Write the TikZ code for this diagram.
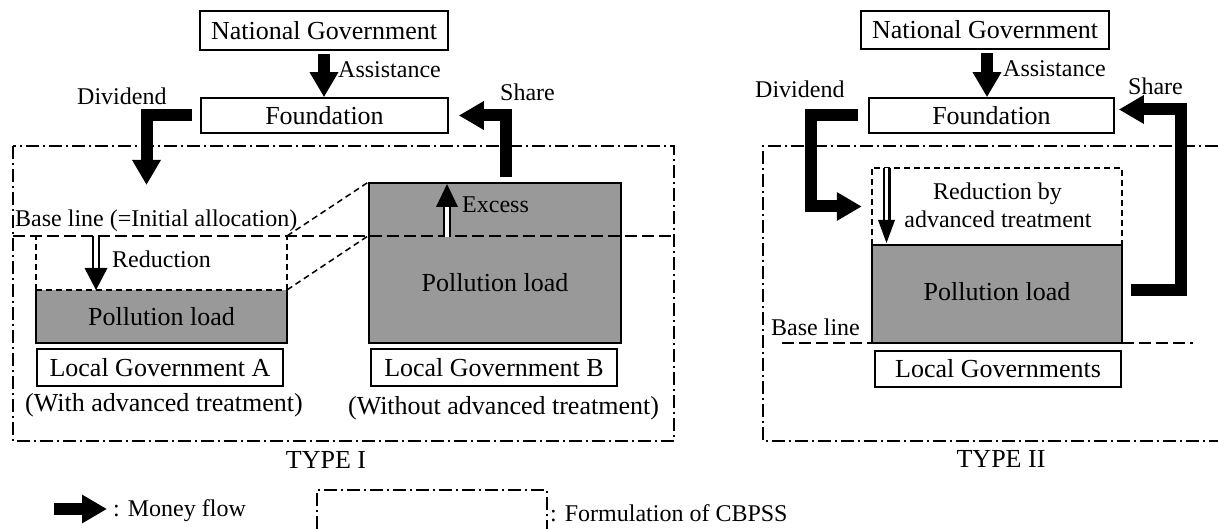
\documentclass[tikz,border=0pt]{standalone}
\usepackage{fontspec}
\setmainfont{Liberation Serif}
\usetikzlibrary{arrows.meta,calc}
\definecolor{loadgray}{RGB}{153,153,153}
\begin{document}
\begin{tikzpicture}[x=1pt,y=-1pt,
  big/.style={font=\fontsize{26}{30}\selectfont},
  small/.style={font=\fontsize{24}{28}\selectfont},
  box/.style={draw, line width=1.6pt, inner sep=0pt, big},
  money/.style={line width=12pt, line join=miter, -{Triangle[width=27pt,length=25pt]}},
  frame/.style={line width=1.6pt, dash pattern=on 13pt off 4pt on 2pt off 4pt},
  baseln/.style={line width=1.6pt, dash pattern=on 12pt off 5pt},
  fine/.style={line width=1.5pt, dash pattern=on 6pt off 4pt},
  dbl/.style={line width=2.4pt, double distance=3.2pt},
  lbl/.style={anchor=base west, inner sep=0pt},
  ctr/.style={anchor=base, inner sep=0pt},
  solid3/.style={line width=1.6pt}]
\useasboundingbox (0,0) rectangle (1218,529);

% ================= TYPE I =================
\draw[frame] (13,146) rectangle (674,441);

\node[box, minimum width=248pt, minimum height=39pt] (nat1) at (324,30.5) {National Government};
\node[box, minimum width=247pt, minimum height=35pt] (found1) at (324.5,115.5) {Foundation};

% gray boxes
\node[fill=loadgray, inner sep=0pt, minimum width=251pt, minimum height=53pt, big] (polA) at (161.5,316.5) {Pollution load};
\draw[solid3] (polA.north west) -- (polA.south west) -- (polA.south east) -- (polA.north east);
\node[draw, line width=1.6pt, fill=loadgray, inner sep=0pt, minimum width=252pt, minimum height=160pt] (polB) at (495,263) {};
\node[ctr, big] (polBt) at (495,292) {Pollution load};

% reduction box A
\draw[fine] (polA.north west) -- ++(0,-54) coordinate (redAtl);
\draw[fine] (polA.north east) -- ++(0,-54) coordinate (redAtr);
\draw[fine] (polA.north west) -- (polA.north east);
% slanted lines
\draw[fine] (redAtr) -- (polB.north west);
\draw[fine] (polA.north east) -- (polB.west |- redAtr);

% base line
\draw[baseln] (13,236) -- (674,236);

% local governments
\node[box, minimum width=246pt, minimum height=37pt] (lgA) at (160,367.5) {Local Government A};
\node[box, minimum width=246pt, minimum height=37pt] (lgB) at (494,367.5) {Local Government B};
\node[ctr, big] (withA) at (164,411) {(With advanced treatment)};
\node[ctr, big] (withoutB) at (503.5,414) {(Without advanced treatment)};
\node[ctr, big] (type1) at (326,468) {TYPE I};

% double arrows
\draw[dbl] (96,236) -- (96,269);
\fill (84.5,268) -- (107.5,268) -- (96,290) -- cycle;
\draw[dbl] (447,237) -- (447,206);
\fill (436,207) -- (458,207) -- (447,184) -- cycle;

% labels
\node[lbl, small] (assist1) at (338,78) {Assistance};
\node[lbl, small] (div1) at (77,105) {Dividend};
\node[lbl, small] (share1) at (500,101) {Share};
\node[lbl, small] (base1) at (15,227) {Base line (=Initial allocation)};
\node[lbl, small] (excess) at (462,213) {Excess};
\node[lbl, small] (reduct) at (112,268) {Reduction};

% money flows
\draw[money] ([yshift=-3pt]nat1.south) -- (nat1.south |- found1.north);
\draw[money] ([xshift=-8pt]found1.west) -| (146.5,185);
\draw[money] ([xshift=11pt,yshift=5pt]polB.north) |- ([xshift=10pt]found1.east);

% ================= TYPE II =================
\draw[frame] (1218,146) -- (763,146) -- (763,441) -- (1218,441);

\node[box, minimum width=248pt, minimum height=38pt] (nat2) at (985,30) {National Government};
\node[box, minimum width=245pt, minimum height=35pt] (found2) at (991.5,115.5) {Foundation};

\draw[baseln] (782,343) -- (1193,343);
\node[draw, line width=1.6pt, fill=loadgray, inner sep=0pt, minimum width=250pt, minimum height=98pt] (polII) at (997,294) {};
\node[ctr, big] (polIIt) at (997,301) {Pollution load};
\node[inner sep=0pt, minimum width=250pt, minimum height=77pt] (redII) at (997,206.5) {};
\draw[fine] (redII.south west) -- (redII.north west) -- (redII.north east) -- (redII.south east) -- cycle;
\node[ctr, small] (redIIa) at (997.5,200) {Reduction by};
\node[ctr, small] (redIIb) at (998,228) {advanced treatment};

\draw[dbl] (886.5,168) -- (886.5,221);
\fill (878,220) -- (895,220) -- (886.5,243) -- cycle;

\node[box, minimum width=246pt, minimum height=36pt] (lgs) at (998,369) {Local Governments};
\node[lbl, small] (base2) at (771,335) {Base line};
\node[ctr, big] (type2) at (1001,467) {TYPE II};

\node[lbl, small] (assist2) at (1003,77) {Assistance};
\node[lbl, small] (div2) at (755,98) {Dividend};
\node[lbl, small] (share2) at (1128,95) {Share};

\draw[money] ([xshift=2pt,yshift=-3pt]nat2.south) -- ([xshift=2pt]nat2.south |- found2.north);
\draw[money] ([xshift=-10pt]found2.west) -| ([xshift=-61pt]redII.west) -- ([xshift=-10pt]redII.west);
\draw[money] ([xshift=8pt,yshift=4pt]polII.east) -- ++(50,0) |- ([xshift=4pt,yshift=6pt]found2.east);

% ================= Legend =================
\coordinate (lgS) at (54,509);
\coordinate (lgE) at (107,509);
\draw[money] (lgS) -- (lgE);
\node[lbl, small] (lgt1) at (113,516) {: Money flow};
\draw[frame] (317,529) -- (317,490) -- (547,490) -- (547,529);
\node[lbl, small] (lgt2) at (550,521) {: Formulation of CBPSS};
\end{tikzpicture}
\end{document}
